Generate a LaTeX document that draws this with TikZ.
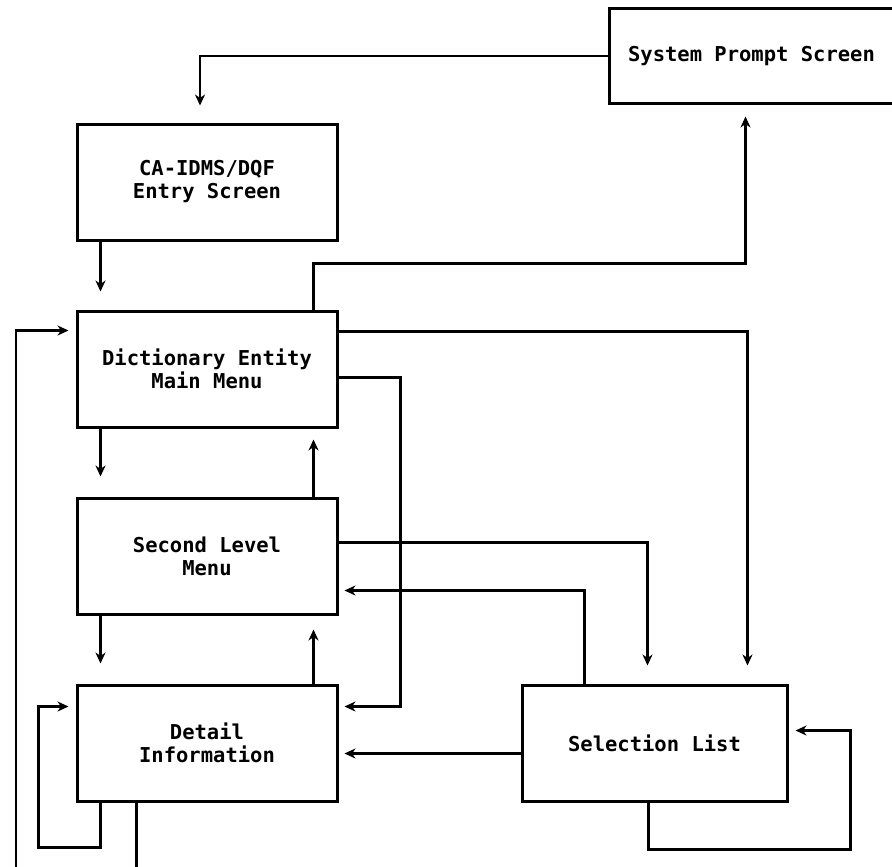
\documentclass[tikz,border=0pt]{standalone}
\usepackage{fontspec}
\newfontfamily\screenfont{DejaVu Sans Mono}
\usetikzlibrary{arrows.meta,positioning}
\begin{document}
\begin{tikzpicture}[x=1pt,y=1pt,node distance=187pt,
  screen/.style={rectangle,draw,line width=3pt,minimum width=260pt,minimum height=116pt,
    align=center,font=\screenfont\bfseries\fontsize{20.5}{23}\selectfont},
  link/.style={line width=2.2pt,-{Stealth[length=11pt,width=10pt,inset=3.5pt]}}]
\useasboundingbox (0,0) rectangle (892,-867);
\node (sys) [screen,minimum width=285pt,minimum height=94pt] at (751.5,-56) {System Prompt Screen};
\node (entry) [screen] at (207,-182) {CA-IDMS/DQF\\Entry Screen};
\node (dict) [screen,below of=entry] {Dictionary Entity\\Main Menu};
\node (second) [screen,below of=dict] {Second Level\\Menu};
\node (detail) [screen,below of=second] {Detail\\Information};
\node (sel) [screen,minimum width=265pt] at (654.5,-743) {Selection List};
\coordinate (sysin) at ([xshift=-6pt,yshift=-12pt]sys.south);
\coordinate (fb) at (16,-872);
% top part
\draw[link] (sys.west) -| ([xshift=-7pt,yshift=17pt]entry.north);
\draw[link] ([xshift=25pt]entry.south west) -- ([xshift=25pt,yshift=18pt]dict.north west);
\draw[link] ([xshift=-25pt]dict.north east) -- ++(0,46pt) -| (sysin);
\draw[link] (fb) |- ([xshift=-7pt,yshift=-21pt]dict.north west);
% menu to selection and detail
\draw[link] ([yshift=-22pt]dict.north east) -| ([xshift=93pt,yshift=18pt]sel.north);
\draw[link] ([yshift=-68pt]dict.north east) -- ++(62pt,0) |- ([xshift=6pt,yshift=-23pt]detail.north east);
\draw[link] ([xshift=25pt]dict.south west) -- ([xshift=25pt,yshift=20pt]second.north west);
\draw[link] ([xshift=-25pt]second.north east) -- ([xshift=-25pt,yshift=-11pt]dict.south east);
\draw[link] ([yshift=-46pt]second.north east) -| ([xshift=-7pt,yshift=18pt]sel.north);
\draw[link] ([xshift=-70pt]sel.north) |- ([xshift=6pt,yshift=-94pt]second.north east);
\draw[link] ([xshift=25pt]second.south west) -- ([xshift=25pt,yshift=20pt]detail.north west);
\draw[link] ([xshift=-25pt]detail.north east) -- ([xshift=-25pt,yshift=-14pt]second.south east);
\draw[link] ([yshift=-70pt]sel.north west) -- ([xshift=6pt,yshift=-70pt]detail.north east);
% loops
\draw[link] ([xshift=25pt]detail.south west) |- ++(-62pt,-45pt) |- ([xshift=-7pt,yshift=-23pt]detail.north west);
\draw[link] ([xshift=-6pt]sel.south) |- ++(202pt,-47pt) |- ([xshift=7pt,yshift=-47pt]sel.north east);
\draw[line width=2.2pt] ([xshift=61pt]detail.south west) -- ++(0,-72pt);
\end{tikzpicture}
\end{document}
